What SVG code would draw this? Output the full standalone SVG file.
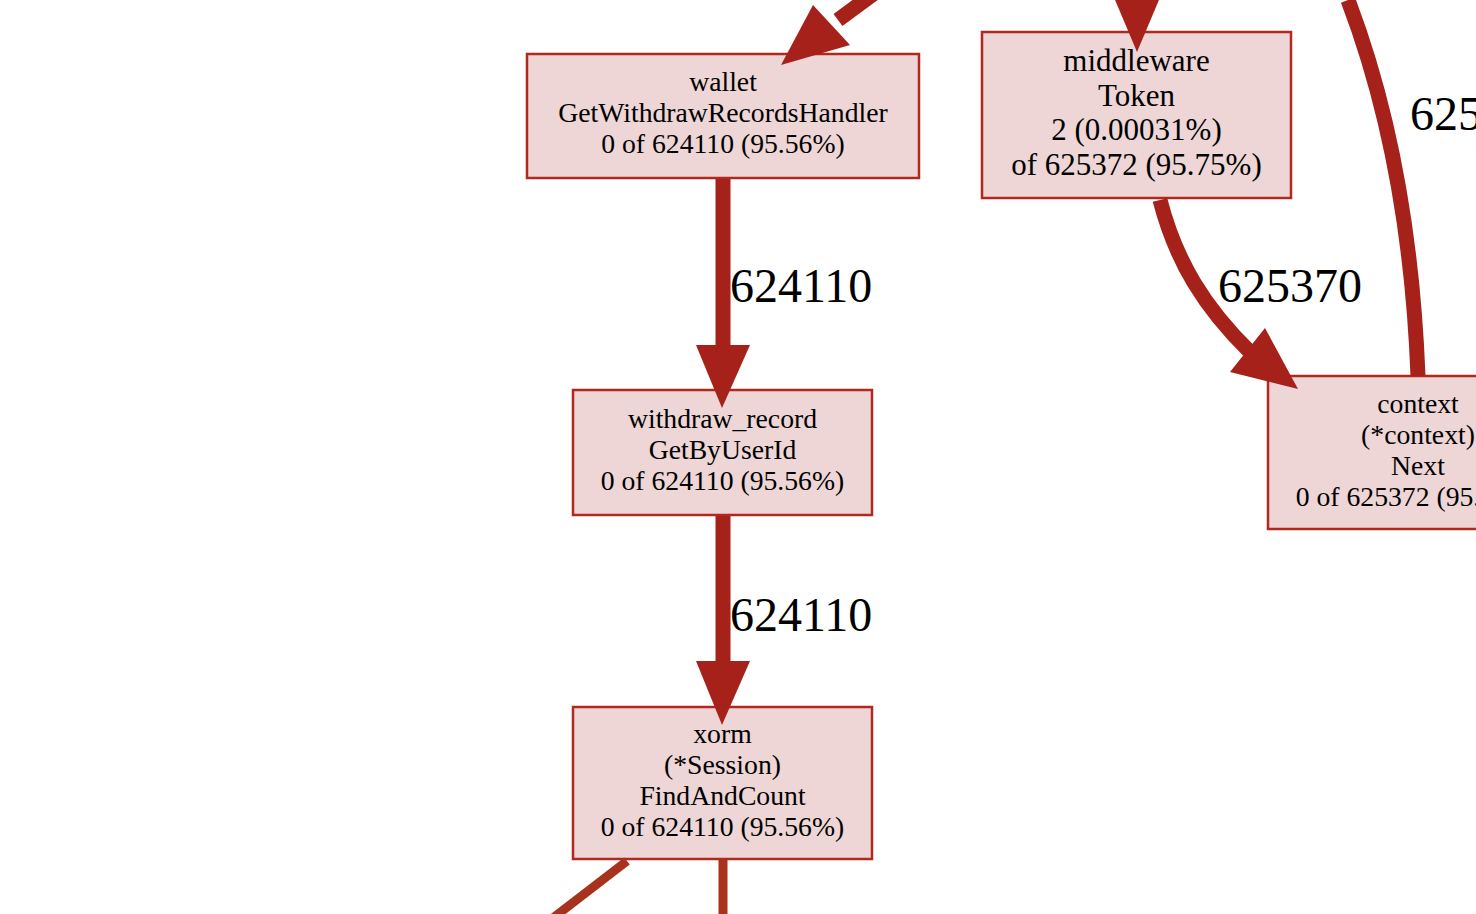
<svg xmlns="http://www.w3.org/2000/svg" width="1476" height="914" viewBox="0 0 1476 914">
<style>
.node rect{fill:#edd6d5;stroke:#b2281e;stroke-width:2.5}
.node text{font-family:"Liberation Serif","Times New Roman",serif;font-size:27.7px;text-anchor:middle;fill:#000}
.big text{font-size:31px}
.edge{fill:none;stroke:#a6211a;stroke-width:15}
.thin{fill:none;stroke:#a8331c;stroke-width:9}
.head{fill:#a6211a;stroke:none}
.lbl{font-family:"Liberation Serif","Times New Roman",serif;font-size:48px;fill:#000}
</style>
<rect width="1476" height="914" fill="#fff"/>
<g id="wallet" class="node">
<rect x="527" y="54" width="392" height="124"/>
<text x="723" y="91">wallet</text>
<text x="723" y="122">GetWithdrawRecordsHandler</text>
<text x="723" y="153">0 of 624110 (95.56%)</text>
</g>
<g id="middleware" class="node big">
<rect x="982" y="32" width="309" height="166"/>
<text x="1136.5" y="71">middleware</text>
<text x="1136.5" y="106">Token</text>
<text x="1136.5" y="140">2 (0.00031%)</text>
<text x="1136.5" y="175">of 625372 (95.75%)</text>
</g>
<g id="context" class="node">
<rect x="1268" y="376" width="300" height="153"/>
<text x="1418" y="413">context</text>
<text x="1418" y="444">(*context)</text>
<text x="1418" y="475">Next</text>
<text x="1418" y="506">0 of 625372 (95.75%)</text>
</g>
<g id="withdraw_record" class="node">
<rect x="573" y="390" width="299" height="125"/>
<text x="722.5" y="428">withdraw_record</text>
<text x="722.5" y="459">GetByUserId</text>
<text x="722.5" y="490">0 of 624110 (95.56%)</text>
</g>
<g id="xorm" class="node">
<rect x="573" y="707" width="299" height="152"/>
<text x="722.5" y="743">xorm</text>
<text x="722.5" y="774">(*Session)</text>
<text x="722.5" y="805">FindAndCount</text>
<text x="722.5" y="836">0 of 624110 (95.56%)</text>
</g>
<g id="connectors">
<line class="edge" x1="880" y1="-11" x2="838" y2="20"/>
<polygon class="head" points="813,5 850,45 781,65"/>
<line class="edge" x1="1137" y1="-40" x2="1137" y2="-10"/>
<polygon class="head" points="1110,-12 1164,-12 1137,52"/>
<path class="edge" d="M1348,0 C1386,100 1412,220 1418,376"/>
<text class="lbl" x="1410" y="130">625</text>
<line class="edge" x1="723" y1="179" x2="723" y2="348"/>
<polygon class="head" points="696,345 750,345 722,408"/>
<text class="lbl" x="730" y="302">624110</text>
<line class="edge" x1="723" y1="516" x2="723" y2="664"/>
<polygon class="head" points="696,661 750,661 722,725"/>
<text class="lbl" x="730" y="631">624110</text>
<path class="edge" d="M1160,200 C1176,262 1205,308 1250,352"/>
<polygon class="head" points="1230,372 1265,328 1298,389"/>
<text class="lbl" x="1218" y="302">625370</text>
<line class="thin" x1="627" y1="861" x2="553" y2="918"/>
<line class="thin" x1="723" y1="860" x2="723" y2="914"/>
</g>
</svg>
